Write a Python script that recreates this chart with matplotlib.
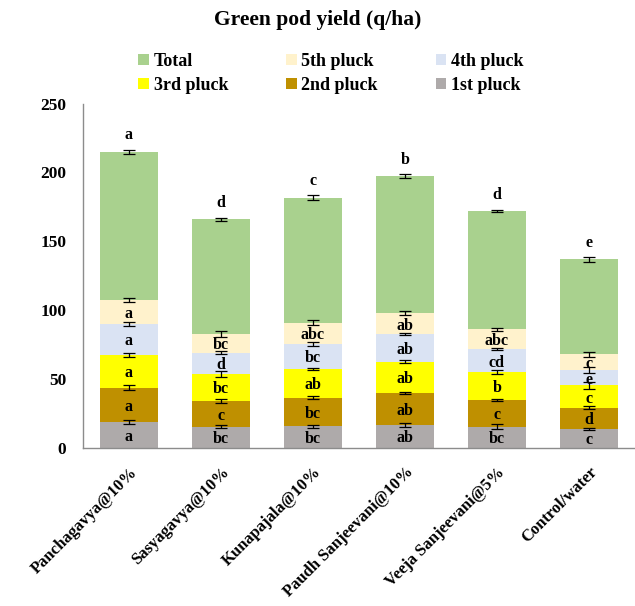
import matplotlib
matplotlib.use("Agg")
import matplotlib.pyplot as plt
import numpy as np

# ---- data ----
categories = ["Panchagavya@10%", "Sasyagavya@10%", "Kunapajala@10%",
              "Paudh Sanjeevani@10%", "Veeja Sanjeevani@5%", "Control/water"]
series_names = ["1st pluck", "2nd pluck", "3rd pluck", "4th pluck", "5th pluck", "Total"]
pluck1 = [18.7, 15.3, 15.5, 16.7, 15.3, 13.6]
pluck2 = [24.7, 18.8, 20.8, 23.0, 19.3, 15.5]
pluck3 = [24.1, 19.4, 20.9, 22.8, 20.4, 16.2]
pluck4 = [22.3, 15.5, 18.3, 19.9, 16.7, 11.4]
pluck5 = [17.3, 13.6, 15.1, 15.7, 14.3, 11.2]
total = [107.9, 83.3, 91.0, 99.2, 85.9, 68.9]

err1 = [1.5, 1.2, 1.0, 1.5, 2.0, 0.7]
err2 = [1.8, 1.5, 1.0, 1.0, 1.0, 1.3]
err3 = [1.5, 2.0, 1.0, 1.0, 1.7, 2.4]
err4 = [1.2, 1.2, 1.5, 0.7, 0.7, 2.2]
err5 = [1.5, 2.0, 1.8, 1.5, 1.3, 1.7]
errT = [1.5, 1.0, 1.8, 1.5, 1.0, 2.0]

let1 = ["a", "bc", "bc", "ab", "bc", "c"]
let2 = ["a", "c", "bc", "ab", "c", "d"]
let3 = ["a", "bc", "ab", "ab", "b", "c"]
let4 = ["a", "d", "bc", "ab", "cd", "e"]
let5 = ["a", "bc", "abc", "ab", "abc", "c"]
letT = ["a", "d", "c", "b", "d", "e"]

colors = ["#AEAAAA", "#BF9000", "#FFFF00", "#DAE3F3", "#FFF2CC", "#A9D18E"]

plt.rcParams['font.family'] = ['Liberation Serif', 'DejaVu Serif']
plt.rcParams['font.weight'] = 'bold'

fig = plt.figure(figsize=(6.35, 6.06), dpi=100)
ax = fig.add_axes([0.1307, 0.2612, 1.0 - 0.1307, 0.8292 - 0.2612])

x = np.arange(len(categories))
values = [pluck1, pluck2, pluck3, pluck4, pluck5, total]
errs = [err1, err2, err3, err4, err5, errT]
letters = [let1, let2, let3, let4, let5, letT]

bottom = np.zeros(len(categories))
handles = []
for vals, er, lets, col, name in zip(values, errs, letters, colors, series_names):
    vals = np.array(vals)
    b = ax.bar(x, vals, width=0.64, bottom=bottom, color=col, label=name,
               edgecolor='none', zorder=2)
    handles.append(b)
    top = bottom + vals
    ax.errorbar(x, top, yerr=er, fmt='none', ecolor='black', elinewidth=0.9,
                capsize=4, capthick=0.9, zorder=3)
    for i in range(len(categories)):
        if name == "Total":
            ax.text(x[i], top[i] + 12, lets[i], ha='center', va='center',
                    fontsize=11.5, fontweight='bold', zorder=4)
        else:
            ax.text(x[i], bottom[i] + vals[i] / 2 - 1.5, lets[i], ha='center',
                    va='center', fontsize=11.5, fontweight='bold', zorder=4)
    bottom = top

ax.set_xlim(-0.5, len(categories) - 0.5)
ax.set_ylim(0, 250)
ax.set_yticks([0, 50, 100, 150, 200, 250])
ax.set_xticks(x)
ax.set_xticklabels(categories, rotation=45, ha='right', rotation_mode='anchor',
                   fontsize=12, fontweight='bold')
for lab in ax.get_yticklabels():
    lab.set_fontsize(12.5)
    lab.set_fontweight('bold')
ax.tick_params(axis='both', length=0)
ax.tick_params(axis='y', pad=12)
ax.tick_params(axis='x', pad=12)
for s in ['top', 'right']:
    ax.spines[s].set_visible(False)
for s in ['left', 'bottom']:
    ax.spines[s].set_color('#8C8C8C')
    ax.spines[s].set_linewidth(1.0)

fig.text(0.5, 0.967, "Green pod yield (q/ha)", ha='center', va='center',
         fontsize=15.5, fontweight='bold')

# legend: row-wise order Total, 5th, 4th / 3rd, 2nd, 1st
order = [5, 2, 4, 1, 3, 0]
leg = fig.legend([handles[i] for i in order], [series_names[i] for i in order],
                 ncol=3, loc='center', bbox_to_anchor=(0.521, 0.879),
                 frameon=False, handlelength=0.6, handleheight=0.6,
                 handletextpad=0.25, columnspacing=3.2, labelspacing=0.38,
                 prop={'family': 'Liberation Serif', 'weight': 'bold', 'size': 13})

fig.savefig("out.png", dpi=100)
